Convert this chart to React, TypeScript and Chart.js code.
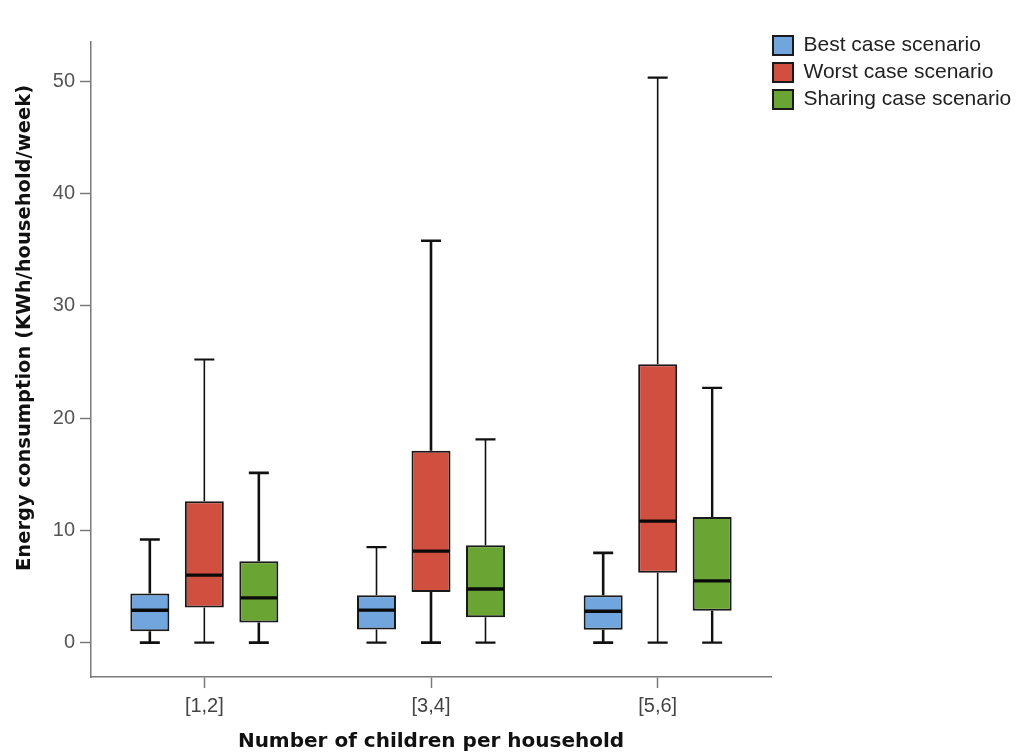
import React, { useEffect, useRef } from 'react';
import { Chart, registerables } from 'chart.js';

Chart.register(...registerables);

// ---- data ----
const categories = ['[1,2]', '[3,4]', '[5,6]'];
const seriesNames = ['Best case scenario', 'Worst case scenario', 'Sharing case scenario'];

const bestMin = [0, 0, 0];
const bestQ1 = [1.02, 1.18, 1.14];
const bestMedian = [2.89, 2.9, 2.8];
const bestQ3 = [4.38, 4.22, 4.23];
const bestMax = [9.19, 8.5, 8.0];

const worstMin = [0, 0, 0];
const worstQ1 = [3.13, 4.52, 6.22];
const worstMedian = [6.01, 8.15, 10.82];
const worstQ3 = [12.6, 17.1, 24.8];
const worstMax = [25.22, 35.8, 50.33];

const sharingMin = [0, 0, 0];
const sharingQ1 = [1.8, 2.26, 2.83];
const sharingMedian = [3.99, 4.78, 5.5];
const sharingQ3 = [7.26, 8.68, 11.2];
const sharingMax = [15.12, 18.1, 22.69];

const yTicks = [0, 10, 20, 30, 40, 50];
const yTitle = 'Energy consumption (KWh/household/week)';
const xTitle = 'Number of children per household';

// ---- styles ----
const seriesColors = ['#70a6dd', '#d04f3f', '#6aa534'];
const whiskerWidths = [
  [2.6, 1.6, 2.6],
  [1.6, 2.6, 1.6],
  [2.6, 1.6, 2.4],
];
const axisColor = '#7a7a7a';

const statsBySeries = [
  { min: bestMin, q1: bestQ1, med: bestMedian, q3: bestQ3, max: bestMax },
  { min: worstMin, q1: worstQ1, med: worstMedian, q3: worstQ3, max: worstMax },
  { min: sharingMin, q1: sharingQ1, med: sharingMedian, q3: sharingQ3, max: sharingMax },
];

const boxPlotPlugin = {
  id: 'boxPlotExtras',
  afterLayout(chart: any) {
    const lg = chart.legend;
    if (lg) {
      lg.left = 767;
      lg.top = 29;
    }
  },
  afterDatasetsDraw(chart: any) {
    const ctx = chart.ctx;
    const y = chart.scales.y;
    chart.data.datasets.forEach((ds: any, di: number) => {
      const meta = chart.getDatasetMeta(di);
      meta.data.forEach((el: any, j: number) => {
        const { x, width } = el.getProps(['x', 'width'], true);
        const pMin = y.getPixelForValue(ds.stats.min[j]);
        const pQ1 = y.getPixelForValue(ds.stats.q1[j]);
        const pMed = y.getPixelForValue(ds.stats.med[j]);
        const pQ3 = y.getPixelForValue(ds.stats.q3[j]);
        const pMax = y.getPixelForValue(ds.stats.max[j]);
        const ww = ds.whiskers[j];
        ctx.save();
        ctx.strokeStyle = '#111';
        ctx.lineCap = 'butt';
        ctx.lineWidth = ww;
        ctx.beginPath();
        ctx.moveTo(x, pQ3);
        ctx.lineTo(x, pMax);
        ctx.moveTo(x, pQ1);
        ctx.lineTo(x, pMin);
        ctx.stroke();
        ctx.lineWidth = Math.max(2.2, ww);
        ctx.beginPath();
        ctx.moveTo(x - 10, pMax);
        ctx.lineTo(x + 10, pMax);
        ctx.moveTo(x - 10, pMin);
        ctx.lineTo(x + 10, pMin);
        ctx.stroke();
        ctx.lineWidth = 3.4;
        ctx.strokeStyle = '#0a0a0a';
        ctx.beginPath();
        ctx.moveTo(x - width / 2 + 1, pMed);
        ctx.lineTo(x + width / 2 - 1, pMed);
        ctx.stroke();
        ctx.restore();
      });
    });
  },
  afterDraw(chart: any) {
    const ctx = chart.ctx;
    ctx.save();
    ctx.translate(25, 328);
    ctx.rotate(-Math.PI / 2);
    ctx.font = 'bold 19.5px "DejaVu Sans"';
    ctx.fillStyle = '#111';
    ctx.textAlign = 'center';
    ctx.textBaseline = 'middle';
    ctx.fillText(yTitle, 0, 0);
    ctx.restore();
  },
};

export default function App() {
  const canvasRef = useRef<HTMLCanvasElement | null>(null);

  useEffect(() => {
    if (!canvasRef.current) return;
    const datasets = seriesNames.map((name, si) => {
      const s = statsBySeries[si];
      return {
        label: name,
        data: categories.map((_, i) => [s.q1[i], s.q3[i]]),
        stats: s,
        whiskers: whiskerWidths[si],
        backgroundColor: seriesColors[si],
        borderColor: '#1a1a1a',
        borderWidth: 2,
        borderSkipped: false,
        categoryPercentage: 0.7213,
        barPercentage: 0.7156,
      };
    });

    const chart = new Chart(canvasRef.current, {
      type: 'bar',
      data: { labels: categories, datasets: datasets as any },
      options: {
        responsive: false,
        maintainAspectRatio: false,
        animation: false,
        devicePixelRatio: 1,
        layout: { padding: { top: 42, left: 0, right: 0, bottom: 0 } },
        plugins: {
          tooltip: { enabled: false },
          legend: {
            position: 'right',
            align: 'start',
            maxWidth: 247,
            labels: {
              boxWidth: 20,
              boxHeight: 19,
              padding: 6,
              color: '#222',
              font: { family: 'Liberation Sans', size: 21 },
            },
          },
        },
        scales: {
          x: {
            type: 'category',
            offset: true,
            afterFit: (s: any) => {
              s.height = 76;
            },
            grid: {
              display: true,
              offset: false,
              drawOnChartArea: false,
              drawTicks: true,
              tickLength: 11,
              tickWidth: 1.5,
              tickColor: axisColor,
            },
            border: { display: true, color: axisColor, width: 1.5 },
            ticks: {
              font: { family: 'Liberation Sans', size: 20 },
              color: '#444',
              padding: 6,
            },
            title: {
              display: true,
              text: xTitle,
              color: '#111',
              font: { family: 'DejaVu Sans', size: 20, weight: 'bold', lineHeight: 1 },
              padding: { top: 0, bottom: 1 },
            },
          },
          y: {
            type: 'linear',
            min: -3.06,
            max: 53.5,
            afterBuildTicks: (s: any) => {
              s.ticks = yTicks.map((v) => ({ value: v }));
            },
            afterFit: (s: any) => {
              s.width = 91;
            },
            grid: {
              display: true,
              drawOnChartArea: false,
              drawTicks: true,
              tickLength: 11,
              tickWidth: 1.5,
              tickColor: axisColor,
            },
            border: { display: true, color: axisColor, width: 1.5 },
            ticks: {
              font: { family: 'Liberation Sans', size: 20 },
              color: '#555',
              padding: 5,
            },
          },
        },
      } as any,
      plugins: [boxPlotPlugin],
    });
    return () => chart.destroy();
  }, []);

  return (
    <div style={{ position: 'fixed', left: 0, top: 0, width: 1018, height: 753, background: '#fff' }}>
      <canvas ref={canvasRef} width={1018} height={753} style={{ width: 1018, height: 753, display: 'block' }} />
    </div>
  );
}
